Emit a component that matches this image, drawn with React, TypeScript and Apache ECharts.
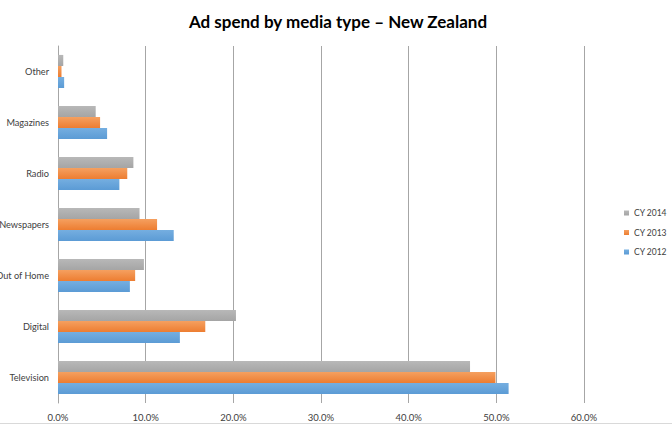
import React, { useEffect, useRef } from "react";
import * as echarts from "echarts";

const categories = ["Television", "Digital", "Out of Home", "Newspapers", "Radio", "Magazines", "Other"];
const cy2012 = [51.4, 13.9, 8.2, 13.2, 7.0, 5.6, 0.7];
const cy2013 = [49.9, 16.8, 8.8, 11.3, 7.9, 4.8, 0.4];
const cy2014 = [47.0, 20.3, 9.8, 9.3, 8.6, 4.3, 0.6];
const legendOrder = ["CY 2014", "CY 2013", "CY 2012"];
const xTicks = { min: 0, max: 60, interval: 10 };

const FONT = "Lato, 'Open Sans', sans-serif";

function grad(top: string, bottom: string) {
  return new echarts.graphic.LinearGradient(0, 0, 0, 1, [
    { offset: 0, color: top },
    { offset: 1, color: bottom },
  ]);
}

export default function App() {
  const ref = useRef<HTMLDivElement>(null);
  useEffect(() => {
    if (!ref.current) return;
    const chart = echarts.init(ref.current, undefined, { renderer: "svg" });
    const barBase = { type: "bar" as const, barGap: "0%", barCategoryGap: "35%" };
    chart.setOption({
      animation: false,
      backgroundColor: "#ffffff",
      textStyle: { fontFamily: FONT },
      title: {
        text: "Ad spend by media type \u2013 New Zealand",
        left: 333,
        textAlign: "center",
        top: 8,
        textStyle: { fontFamily: FONT, fontSize: 17, fontWeight: "bold", color: "#000000" },
      },
      legend: {
        orient: "vertical",
        left: 619,
        top: 202,
        itemWidth: 5,
        itemHeight: 5,
        itemGap: 7.5,
        icon: "rect",
        data: legendOrder,
        textStyle: { fontFamily: FONT, fontSize: 8.5, color: "#404040", lineHeight: 12 },
      },
      grid: { left: 58, right: 88, top: 46, bottom: 21, containLabel: false, outerBoundsMode: "none" },
      xAxis: {
        type: "value",
        min: xTicks.min,
        max: xTicks.max,
        interval: xTicks.interval,
        axisLine: { show: false },
        axisTick: { show: false },
        splitLine: { show: true, lineStyle: { color: "#a6a6a6", width: 1 } },
        axisLabel: {
          margin: 9,
          fontSize: 9.5,
          color: "#404040",
          fontFamily: FONT,
          formatter: (v: number) => v.toFixed(1) + "%",
        },
      },
      yAxis: {
        type: "category",
        data: categories,
        axisLine: { show: true, lineStyle: { color: "#a6a6a6", width: 1 } },
        axisTick: { show: false },
        axisLabel: { margin: 9, fontSize: 9.2, color: "#404040", fontFamily: FONT },
      },
      series: [
        { ...barBase, name: "CY 2014", data: cy2014, itemStyle: { color: grad("#b8b8b8", "#a5a5a5") } },
        { ...barBase, name: "CY 2013", data: cy2013, itemStyle: { color: grad("#f5a060", "#ed7d31") } },
        { ...barBase, name: "CY 2012", data: cy2012, itemStyle: { color: grad("#75aee0", "#5b9bd5") } },
      ],
      graphic: [
        {
          type: "line",
          shape: { x1: 0, y1: 423.5, x2: 672, y2: 423.5 },
          style: { stroke: "#d9d9d9", lineWidth: 1 },
        },
      ],
    });
    return () => chart.dispose();
  }, []);
  return (
    <div
      ref={ref}
      style={{ position: "absolute", left: 0, top: 0, width: 672, height: 424 }}
    />
  );
}
